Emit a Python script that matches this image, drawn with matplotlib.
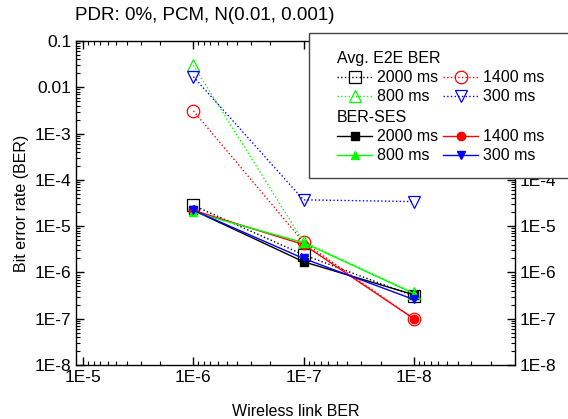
import matplotlib.pyplot as plt
import numpy as np
from matplotlib.patches import Rectangle
from matplotlib.ticker import LogLocator, FixedLocator, FixedFormatter, NullFormatter

plt.rcParams['font.family'] = ['Liberation Sans', 'DejaVu Sans']
plt.rcParams['font.size'] = 11

# data
link_ber = [1e-6, 1e-7, 1e-8]
labels = ['2000 ms', '1400 ms', '800 ms', '300 ms']
colors = ['#000000', '#ff0000', '#00ff00', '#0000ff']
open_markers = ['s', 'o', '^', 'v']
e2e_2000 = [2.8e-5, 2.4e-6, 3.1e-7]
e2e_1400 = [3.1e-3, 4.5e-6, 1.0e-7]
e2e_800 = [3.0e-2, 4.6e-6, 3.6e-7]
e2e_300 = [1.7e-2, 3.7e-5, 3.4e-5]
ses_2000 = [2.2e-5, 1.7e-6, 3.3e-7]
ses_1400 = [2.2e-5, 4.0e-6, 1.0e-7]
ses_800 = [2.0e-5, 4.4e-6, 3.5e-7]
ses_300 = [2.2e-5, 2.0e-6, 2.6e-7]
y_ticks = [1e-1, 1e-2, 1e-3, 1e-4, 1e-5, 1e-6, 1e-7, 1e-8]
y_ticklabels = ['0.1', '0.01', '1E-3', '1E-4', '1E-5', '1E-6', '1E-7', '1E-8']
x_ticks = [1e-5, 1e-6, 1e-7, 1e-8]
x_ticklabels = ['1E-5', '1E-6', '1E-7', '1E-8']

e2e = [e2e_2000, e2e_1400, e2e_800, e2e_300]
ses = [ses_2000, ses_1400, ses_800, ses_300]

fig = plt.figure(figsize=(5.68, 4.19), dpi=100)
ax = fig.add_axes([0.134, 0.129, 0.773, 0.773])

h1 = []
h2 = []
for i in range(4):
    l, = ax.plot(link_ber, e2e[i], ':', color=colors[i], lw=1, marker=open_markers[i],
                 ms=9, mfc='none', mec=colors[i], mew=0.9, zorder=2)
    h1.append(l)
for i in range(4):
    l, = ax.plot(link_ber, ses[i], '-', color=colors[i], lw=1, marker=open_markers[i],
                 ms=6, mfc=colors[i], mec=colors[i], zorder=3)
    h2.append(l)

ax.set_xscale('log')
ax.set_yscale('log')
ax.set_xlim(1.16e-5, 1.2e-9)
ax.set_ylim(1e-8, 0.1)
ax.xaxis.set_major_locator(FixedLocator(x_ticks))
ax.xaxis.set_major_formatter(FixedFormatter(x_ticklabels))
ax.yaxis.set_major_locator(FixedLocator(y_ticks))
ax.yaxis.set_major_formatter(FixedFormatter(y_ticklabels))
ax.xaxis.set_minor_locator(LogLocator(base=10, subs=np.arange(2, 10)))
ax.yaxis.set_minor_locator(LogLocator(base=10, subs=np.arange(2, 10)))
ax.xaxis.set_minor_formatter(NullFormatter())
ax.yaxis.set_minor_formatter(NullFormatter())
ax.tick_params(which='both', direction='in', top=True, right=True, labelright=True)
ax.tick_params(which='major', length=6, width=1, labelsize=12.5)
ax.tick_params(which='minor', length=3, width=0.8)
for s in ax.spines.values():
    s.set_linewidth(1)
# right labels under the legend box are hidden in the original
for t in ax.yaxis.get_major_ticks()[:3]:
    t.label2.set_visible(False)

ax.set_xlabel('Wireless link BER', fontsize=11.5, labelpad=14)
ax.set_ylabel('Bit error rate (BER)', fontsize=11.5, labelpad=4)
fig.text(75 / 568, 1 - 15 / 419, 'PDR: 0%, PCM, N(0.01, 0.001)', fontsize=13.5, va='center')

# legend frame
fig.patches.append(Rectangle((309 / 568, 1 - 178 / 419), 0.6, 145 / 419,
                             transform=fig.transFigure, facecolor='white',
                             edgecolor='#444444', lw=1, zorder=5))
order = [0, 2, 1, 3]
leg_kw = dict(ncol=2, loc='upper left', frameon=False, alignment='left',
              handlelength=2.2, handletextpad=0.3, columnspacing=0.3,
              labelspacing=0.25, borderpad=0.2, fontsize=11.5, title_fontsize=11.5)
leg1 = fig.legend([h1[k] for k in order], [labels[k] for k in order],
                  bbox_to_anchor=(326 / 568, 1 - 40 / 419), title='Avg. E2E BER', **leg_kw)
leg1.set_zorder(6)
leg2 = fig.legend([h2[k] for k in order], [labels[k] for k in order],
                  bbox_to_anchor=(326 / 568, 1 - 99 / 419), title='BER-SES', **leg_kw)
leg2.set_zorder(6)

fig.savefig('out.png', dpi=100)
